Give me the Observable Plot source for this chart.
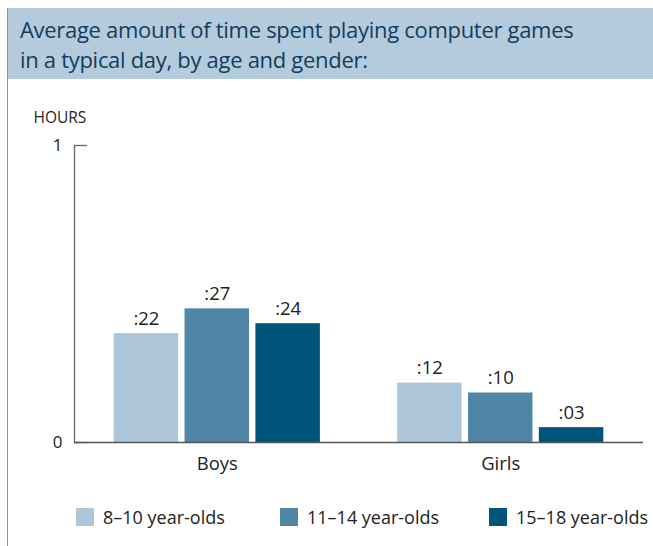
<!DOCTYPE html>
<html><head><meta charset="utf-8">
<script src="https://cdn.jsdelivr.net/npm/d3@7"></script>
<script src="https://cdn.jsdelivr.net/npm/@observablehq/plot@0.6"></script>
<style>
html,body{margin:0;padding:0;background:#fff;}
body{width:653px;height:546px;position:relative;overflow:hidden;font-family:"Open Sans",sans-serif;}
#border{position:absolute;left:6.5px;top:8px;width:1.5px;height:538px;background:#6f9bbd;}
#head{position:absolute;left:8px;top:8px;width:645px;height:71px;background:#b3cbdc;color:#133d5e;font-size:22px;line-height:30px;box-sizing:border-box;padding:6px 0 0 12px;letter-spacing:-0.3px;white-space:nowrap;}
#chart{position:absolute;left:0;top:79px;}
#legend{position:absolute;left:76px;top:505px;display:flex;font-size:18px;color:#222;white-space:nowrap;}
.item{display:flex;align-items:center;white-space:nowrap;}
.item:nth-child(1){width:204px;}
.item:nth-child(2){width:209px;}
.sw{width:18px;height:18px;margin-right:9px;flex:none;}
</style></head>
<body>
<div id="border"></div>
<div id="head">Average amount of time spent playing computer games<br>in a typical day, by age and gender:</div>
<div id="chart"></div>
<div id="legend"></div>
<script>
const genders = ["Boys", "Girls"];
const ages = ["8–10 year-olds", "11–14 year-olds", "15–18 year-olds"];
const boysMinutes = [22, 27, 24];
const girlsMinutes = [12, 10, 3];
const yTicks = [0, 1];
const colors = ["#aec6da", "#4f86a5", "#02557a"];

const seriesByGender = {Boys: boysMinutes, Girls: girlsMinutes};
const rows = [];
for (const g of genders) ages.forEach((a, i) => rows.push({gender: g, age: a, minutes: seriesByGender[g][i], key: g + "|" + a}));
const keyDomain = [...ages.map(a => "Boys|" + a), "gap", ...ages.map(a => "Girls|" + a)];

const chart = Plot.plot({
  width: 653,
  height: 403,
  marginLeft: 74,
  marginRight: 10,
  marginTop: 66,
  marginBottom: 40,
  style: {fontFamily: "'Open Sans', sans-serif", fontSize: "17px", color: "#222", background: "transparent"},
  x: {domain: keyDomain, paddingInner: 0.09, paddingOuter: 0.56, align: 0.5, round: false, axis: null},
  y: {domain: [0, 1], axis: null},
  color: {domain: ages, range: colors},
  marks: [
    Plot.frame({anchor: "left", stroke: "#666", strokeWidth: 1.3}),
    Plot.axisY({ticks: yTicks, tickFormat: d3.format("d"), tickSize: 13, dx: 13, tickPadding: 12, stroke: "#666", strokeWidth: 1.3, label: null, fontSize: 17, fill: "#222"}),
    Plot.barY(rows, {x: "key", y: d => d.minutes / 60, fill: "age"}),
    Plot.ruleY([0], {stroke: "#555", strokeWidth: 1.6}),
    Plot.text(rows, {x: "key", y: d => d.minutes / 60, text: d => ":" + String(d.minutes).padStart(2, "0"), dy: -9, lineAnchor: "bottom", fontSize: 18.5, fill: "#222"}),
    Plot.text(genders, {x: g => g + "|" + ages[1], frameAnchor: "bottom", dy: 27, text: g => g, fontSize: 18.5, fill: "#222"}),
    Plot.text(["HOURS"], {frameAnchor: "top-left", dx: -41, dy: -34, textAnchor: "start", fontSize: 15.5, fill: "#222"})
  ]
});
document.getElementById("chart").appendChild(chart);

const legend = document.getElementById("legend");
ages.forEach((a, i) => {
  const item = document.createElement("div");
  item.className = "item";
  const sw = document.createElement("div");
  sw.className = "sw";
  sw.style.background = colors[i];
  const t = document.createElement("span");
  t.textContent = a;
  item.appendChild(sw); item.appendChild(t);
  legend.appendChild(item);
});
</script>
</body></html>
